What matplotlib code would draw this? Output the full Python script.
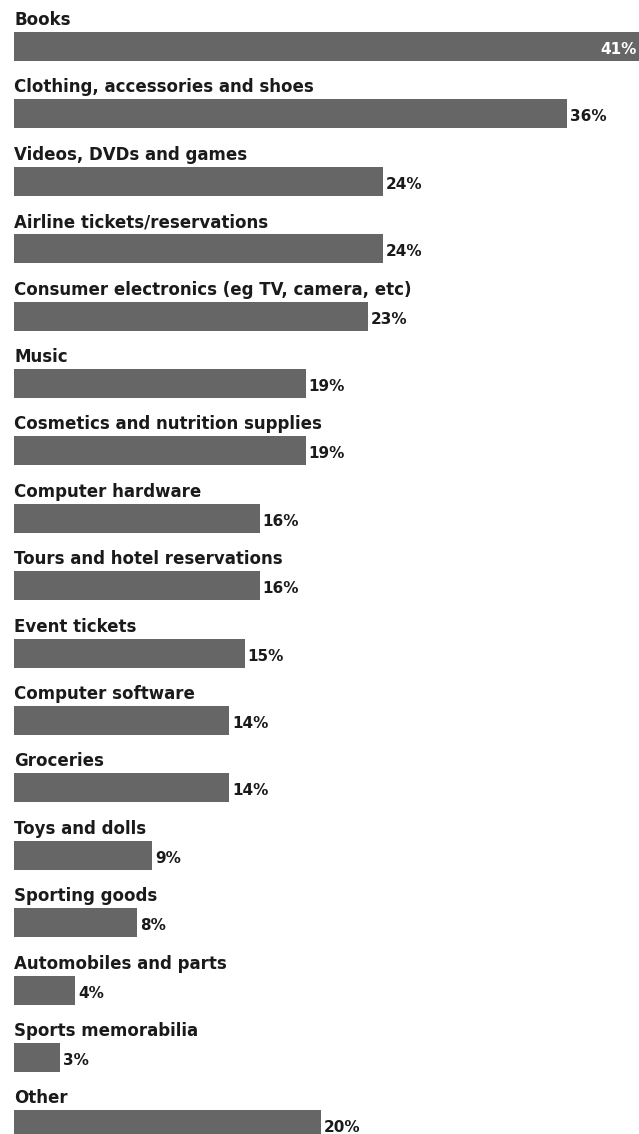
import numpy as np
import matplotlib
matplotlib.use("Agg")
import matplotlib.pyplot as plt

# %%
### Data ######################################################################
categories = [
    "Books",
    "Clothing, accessories and shoes",
    "Videos, DVDs and games",
    "Airline tickets/reservations",
    "Consumer electronics (eg TV, camera, etc)",
    "Music",
    "Cosmetics and nutrition supplies",
    "Computer hardware",
    "Tours and hotel reservations",
    "Event tickets",
    "Computer software",
    "Groceries",
    "Toys and dolls",
    "Sporting goods",
    "Automobiles and parts",
    "Sports memorabilia",
    "Other",
]
values = [41, 36, 24, 24, 23, 19, 19, 16, 16, 15, 14, 14, 9, 8, 4, 3, 20]

# %%
### Plot ######################################################################
W, H = 639, 1134
fig = plt.figure(figsize=(W / 100, H / 100), dpi=100)
ax = fig.add_axes([0, 0, 1, 1])

px_per_pct = 15.37   # horizontal scale, pixels per percent
x0_px = 14           # left edge of bars
pitch_px = 67.4      # spacing between rows
y0_px = 46.5         # centre of first bar
bar_h = 29 / pitch_px

bar_color = "#666666"
text_color = "#1a1a1a"

cat_off = -21.5 / pitch_px   # baseline of category label above bar
val_off = 7.5 / pitch_px     # baseline of value label

y_pos = np.arange(len(categories))
ax.barh(y_pos, values, height=bar_h, color=bar_color, left=0)

for i, (cat, val) in enumerate(zip(categories, values)):
    ax.text(0, i + cat_off, cat, ha="left", va="baseline",
            fontsize=12, fontweight="bold", color=text_color)
    if i == 0:
        # longest bar runs off the edge, label sits inside in white
        ax.text((W - x0_px - 2) / px_per_pct, i + val_off, f"{val}%", ha="right",
                va="baseline", fontsize=11, fontweight="bold", color="white")
    else:
        ax.text(val + 0.18, i + val_off, f"{val}%", ha="left", va="baseline",
                fontsize=11, fontweight="bold", color=text_color)

ax.set_xlim(-x0_px / px_per_pct, (W - x0_px) / px_per_pct)
ax.set_ylim((H - y0_px) / pitch_px, -y0_px / pitch_px)
ax.axis("off")

fig.savefig("out.png", dpi=100, facecolor="white")
